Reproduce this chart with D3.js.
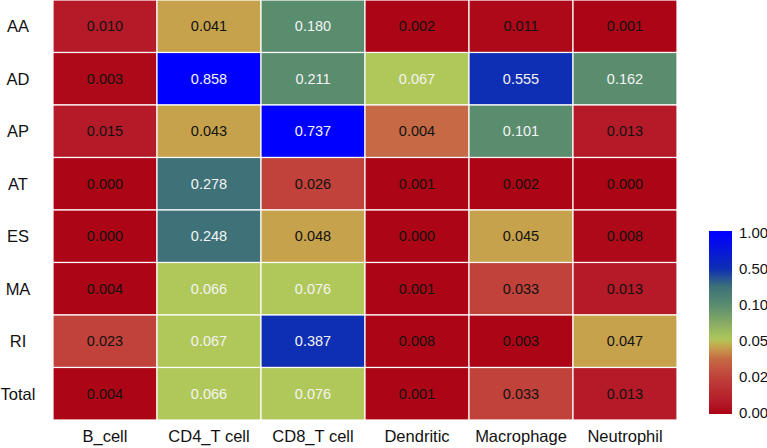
<!DOCTYPE html>
<html>
<head>
<meta charset="utf-8">
<script src="https://cdn.jsdelivr.net/npm/d3@7"></script>
<style>
html,body{margin:0;padding:0;background:#fff;}
svg{display:block;font-family:"Liberation Sans",Arial,sans-serif;}
</style>
</head>
<body>
<svg id="chart" width="767" height="448"></svg>
<script>
const rows = ["AA","AD","AP","AT","ES","MA","RI","Total"];
const cols = ["B_cell","CD4_T cell","CD8_T cell","Dendritic","Macrophage","Neutrophil"];
// displayed values
const values = [
  [0.010,0.041,0.180,0.002,0.011,0.001],
  [0.003,0.858,0.211,0.067,0.555,0.162],
  [0.015,0.043,0.737,0.004,0.101,0.013],
  [0.000,0.278,0.026,0.001,0.002,0.000],
  [0.000,0.248,0.048,0.000,0.045,0.008],
  [0.004,0.066,0.076,0.001,0.033,0.013],
  [0.023,0.067,0.387,0.008,0.003,0.047],
  [0.004,0.066,0.076,0.001,0.033,0.013]
];
const colorValues = [
  [0.006,0.045,0.100,0.000,0.001,0.000],
  [0.001,1.000,0.100,0.052,0.500,0.100],
  [0.006,0.045,1.000,0.035,0.100,0.006],
  [0.000,0.300,0.020,0.000,0.000,0.000],
  [0.000,0.300,0.045,0.000,0.045,0.001],
  [0.000,0.052,0.052,0.000,0.020,0.006],
  [0.020,0.052,0.500,0.000,0.000,0.045],
  [0.000,0.052,0.052,0.000,0.020,0.006]
];
const legendTicks = [0, 0.02, 0.05, 0.10, 0.50, 1.00];
const colorStops = [0, 0.006, 0.02, 0.035, 0.045, 0.052, 0.1, 0.3, 0.5, 1];
const colorRange = ["#ac0616","#b41a28","#c0423a","#c56a45","#c6a24c","#b0c85a","#5a8c6e","#3e7278","#0e2fb3","#0000ff"];

const svg = d3.select("#chart");
const x = d3.scaleBand().domain(cols).range([53, 677]).padding(0);
const y = d3.scaleBand().domain(rows).range([0, 420]).padding(0);
const color = d3.scaleLinear().domain(colorStops).range(colorRange).interpolate(d3.interpolateRgb).clamp(true);

const cells = [];
rows.forEach((r,i)=>cols.forEach((c,j)=>cells.push({r,c,v:values[i][j],cv:colorValues[i][j]})));

svg.append("g").selectAll("rect").data(cells).join("rect")
  .attr("x", d=>x(d.c)).attr("y", d=>y(d.r))
  .attr("width", x.bandwidth()).attr("height", y.bandwidth())
  .attr("fill", d=>color(d.cv))
  .attr("stroke","#fff").attr("stroke-width",1.2);

svg.append("g").selectAll("text").data(cells).join("text")
  .attr("x", d=>x(d.c)+x.bandwidth()/2)
  .attr("y", d=>y(d.r)+y.bandwidth()/2)
  .attr("dy","0.35em")
  .attr("text-anchor","middle")
  .attr("font-size",14.5)
  .attr("fill", d=>d.cv>=0.05 ? "#f4f4f4" : "#111")
  .text(d=>d3.format(".3f")(d.v));

// row labels
svg.append("g").selectAll("text").data(rows).join("text")
  .attr("x",18).attr("y", d=>y(d)+y.bandwidth()/2).attr("dy","0.35em")
  .attr("text-anchor","middle").attr("font-size",16.5).attr("fill","#111")
  .text(d=>d);

// column labels
svg.append("g").selectAll("text").data(cols).join("text")
  .attr("x", d=>x(d)+x.bandwidth()/2).attr("y",442)
  .attr("text-anchor","middle").attr("font-size",16.5).attr("fill","#111")
  .text(d=>d);

// legend
const ly = d3.scaleLinear().domain(legendTicks).range(legendTicks.map((_,i)=>413 - i*36));
const defs = svg.append("defs");
const grad = defs.append("linearGradient").attr("id","lg").attr("x1",0).attr("y1",1).attr("x2",0).attr("y2",0);
const n = 60;
for(let k=0;k<=n;k++){
  const pos = 413 - k*(180/n);
  const v = ly.invert(pos);
  grad.append("stop").attr("offset", (k/n*100)+"%").attr("stop-color", color(v));
}
svg.append("rect").attr("x",709).attr("y",ly(1)).attr("width",23).attr("height",ly(0)-ly(1))
  .attr("fill","url(#lg)");
svg.append("rect").attr("x",709).attr("y",ly(1)-2).attr("width",23).attr("height",2).attr("fill",color(1));
svg.append("rect").attr("x",709).attr("y",ly(0)).attr("width",23).attr("height",1).attr("fill",color(0));
svg.append("g").selectAll("text").data(legendTicks).join("text")
  .attr("x",739).attr("y",d=>ly(d)).attr("dy","0.35em")
  .attr("font-size",15).attr("fill","#111")
  .text(d=>d3.format(".2f")(d));
</script>
</body>
</html>
